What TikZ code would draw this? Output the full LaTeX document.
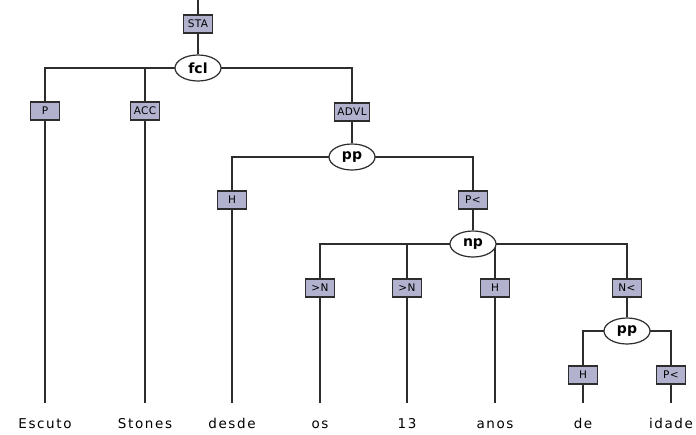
\documentclass[tikz,border=0pt]{standalone}
\usepackage{fontspec}
\setmainfont{DejaVu Sans}
\usetikzlibrary{shapes.geometric,backgrounds}
\definecolor{boxfill}{RGB}{178,178,206}
\definecolor{linec}{RGB}{45,45,45}
\begin{document}
\begin{tikzpicture}[x=1pt,y=-1pt,
  lbl/.style={draw=linec, fill=boxfill, line width=1.2pt, font=\fontsize{10.5}{12}\selectfont\addfontfeature{LetterSpace=4}, minimum width=29pt, minimum height=18pt, inner xsep=3pt, inner ysep=0pt},
  cat/.style={ellipse, draw=linec, fill=white, line width=1.2pt, font=\bfseries\fontsize{14}{16}\selectfont, minimum width=46pt, minimum height=26pt, inner sep=0pt},
  word/.style={anchor=base, inner sep=0pt, font=\fontsize{13.5}{16}\selectfont\addfontfeature{LetterSpace=12}, text height=25pt, text depth=3pt},
  edge/.style={draw=linec, line width=1.2pt}]
\useasboundingbox (0,0) rectangle (696,434);
\coordinate (top) at (198,0);
\node[lbl] (STA) at (198,24) {STA};
\node[cat] (fcl) at (198,68) {fcl};
\node[lbl] (P) at (45,111) {P};
\node[lbl] (ACC) at (145,111) {ACC};
\node[lbl] (ADVL) at (352,112) {ADVL};
\node[cat] (pp1) at (352,157) {pp};
\node[lbl] (H1) at (232,200) {H};
\node[lbl] (Pl1) at (473,200) {P<};
\node[cat] (np) at (473,244) {np};
\node[lbl] (N1) at (320,288) {>N};
\node[lbl] (N2) at (407,288) {>N};
\node[lbl] (H2) at (495,288) {H};
\node[lbl] (Nl) at (627,288) {N<};
\node[cat] (pp2) at (627,331) {pp};
\node[lbl] (H3) at (583,375) {H};
\node[lbl] (Pl2) at (671,375) {P<};
\node[word] (w1) at (45,428) {Escuto};
\node[word] (w2) at (145,428) {Stones};
\node[word] (w3) at (232,428) {desde};
\node[word] (w4) at (320,428) {os};
\node[word] (w5) at (407,428) {13};
\node[word] (w6) at (495,428) {anos};
\node[word] (w7) at (583,428) {de};
\node[word] (w8) at (671,428) {idade};
\begin{scope}[on background layer]
  \draw[edge] (top) -- (STA.north);
  \draw[edge] (STA) -- (fcl);
  \draw[edge] (fcl.center) -| (P);
  \draw[edge] (fcl.center) -| (ACC);
  \draw[edge] (fcl.center) -| (ADVL);
  \draw[edge] (ADVL) -- (pp1);
  \draw[edge] (pp1.center) -| (H1);
  \draw[edge] (pp1.center) -| (Pl1);
  \draw[edge] (Pl1) -- (np);
  \draw[edge] (np.center) -| (N1);
  \draw[edge] (np.center) -| (N2);
  \draw[edge] (np.center) -| (H2);
  \draw[edge] (np.center) -| (Nl);
  \draw[edge] (Nl) -- (pp2);
  \draw[edge] (pp2.center) -| (H3);
  \draw[edge] (pp2.center) -| (Pl2);
  \draw[edge] (P.south) -- (w1.north);
  \draw[edge] (ACC.south) -- (w2.north);
  \draw[edge] (H1.south) -- (w3.north);
  \draw[edge] (N1.south) -- (w4.north);
  \draw[edge] (N2.south) -- (w5.north);
  \draw[edge] (H2.south) -- (w6.north);
  \draw[edge] (H3.south) -- (w7.north);
  \draw[edge] (Pl2.south) -- (w8.north);
\end{scope}
\end{tikzpicture}
\end{document}
